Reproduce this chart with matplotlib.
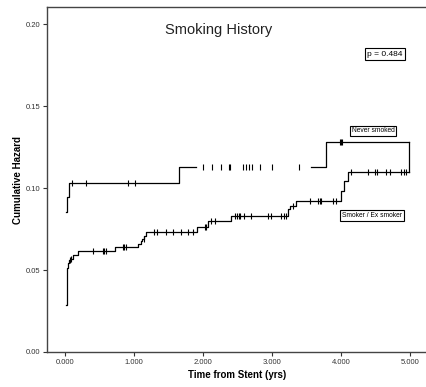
import numpy as np
import matplotlib
matplotlib.use("Agg")
import matplotlib.pyplot as plt

plt.rcParams['font.family'] = ['Liberation Sans', 'DejaVu Sans']

# ---------------- data ----------------
title = "Smoking History"
p_text = "p = 0.484"
xlabel = "Time from Stent (yrs)"
ylabel = "Cumulative Hazard"
xticks = [0, 1, 2, 3, 4, 5]
xticklabels = ["0.000", "1.000", "2.000", "3.000", "4.000", "5.000"]
yticks = [0.00, 0.05, 0.10, 0.15, 0.20]
yticklabels = ["0.00", "0.05", "0.10", "0.15", "0.20"]

# Never smoked: event times and cumulative hazard after each event
never_times = [0.02, 0.035, 0.055, 1.66, 3.78]
never_haz = [0.0855, 0.0947, 0.1032, 0.113, 0.128]
never_end = 4.99
never_gap = (1.90, 3.57)  # segment not visible in the reference
never_censor = [0.10, 0.30, 0.91, 1.01, 2.00, 2.13, 2.26, 2.38, 2.40, 2.58,
                2.62, 2.67, 2.71, 2.83, 3.00, 3.39, 3.99, 4.01, 4.02]

# Smoker / Ex smoker
smoker_times = [0.02, 0.025, 0.03, 0.045, 0.06, 0.08, 0.12, 0.19, 0.72, 1.06,
                1.10, 1.12, 1.15, 1.18, 1.91, 2.08, 2.41, 3.23, 3.26, 3.35,
                4.00, 4.05, 4.11]
smoker_haz = [0.0287, 0.040, 0.051, 0.054, 0.056, 0.057, 0.059, 0.0615, 0.064, 0.066,
              0.0675, 0.069, 0.071, 0.0733, 0.0762, 0.0799, 0.0831, 0.087, 0.089, 0.092,
              0.098, 0.104, 0.1096]
smoker_end = 4.99
smoker_censor = [0.07, 0.09, 0.40, 0.55, 0.57, 0.59, 0.84, 0.86, 0.88, 1.14,
                 1.29, 1.34, 1.47, 1.57, 1.69, 1.79, 1.85, 2.03, 2.05, 2.12,
                 2.17, 2.46, 2.50, 2.52, 2.54, 2.60, 2.70, 2.94, 2.99, 3.13,
                 3.17, 3.20, 3.30, 3.55, 3.67, 3.70, 3.72, 3.88, 3.93, 4.15,
                 4.40, 4.50, 4.52, 4.66, 4.71, 4.88, 4.91, 4.95]

# ---------------- helpers ----------------
def step_xy(times, haz, end):
    x = list(times) + [end]
    y = list(haz) + [haz[-1]]
    return np.array(x), np.array(y)

def haz_at(times, haz, t):
    idx = np.searchsorted(times, t, side='right') - 1
    idx = np.clip(idx, 0, len(haz) - 1)
    return np.array(haz)[idx]

# ---------------- figure ----------------
fig = plt.figure(figsize=(4.27, 3.87), dpi=100)
ax = fig.add_axes([47/427, 35/387, 380/427, 345/387])

lc = 'black'
lw = 0.9

# never smoked (with invisible gap)
nx, ny = step_xy(never_times, never_haz, never_end)
mask1 = nx <= never_gap[0]
x1 = np.append(nx[mask1], never_gap[0]); y1 = np.append(ny[mask1], haz_at(never_times, never_haz, never_gap[0]))
ax.step(x1, y1, where='post', color=lc, lw=lw)
mask2 = nx >= never_gap[1]
x2 = np.insert(nx[mask2], 0, never_gap[1]); y2 = np.insert(ny[mask2], 0, haz_at(never_times, never_haz, never_gap[1]))
ax.step(x2, y2, where='post', color=lc, lw=lw)
ax.plot([never_end, never_end], [smoker_haz[-1], never_haz[-1]], color=lc, lw=lw)

# smoker
sx, sy = step_xy(smoker_times, smoker_haz, smoker_end)
ax.step(sx, sy, where='post', color=lc, lw=lw)

# censor marks
ax.plot(never_censor, haz_at(never_times, never_haz, never_censor), ls='none',
        marker='|', ms=5, mew=0.8, color=lc)
ax.plot(smoker_censor, haz_at(smoker_times, smoker_haz, smoker_censor), ls='none',
        marker='|', ms=5, mew=0.8, color=lc)

ax.set_xlim(-0.26, 5.25)
ax.set_ylim(0, 0.2104)
ax.set_xticks(xticks)
ax.set_xticklabels(xticklabels, fontsize=5.5)
ax.set_yticks(yticks)
ax.set_yticklabels(yticklabels, fontsize=5.5)
ax.tick_params(length=3, width=0.8, pad=2, colors='#333')

for side in ['left', 'top', 'bottom']:
    ax.spines[side].set_color('#444')
    ax.spines[side].set_linewidth(1.0)
ax.spines['right'].set_visible(False)

ax.set_xlabel(xlabel, fontsize=7, fontweight='bold', labelpad=3)
fig.text(18/427, 1 - 180/387, ylabel, rotation=90, fontsize=7, fontweight='bold',
         ha='center', va='center')

ax.text((219 - 47) / 380, 1 - (30 - 7) / 345, title, transform=ax.transAxes,
        ha='center', va='center', fontsize=10.5, color='#222')

box = dict(boxstyle='square,pad=0.25', fc='white', ec='black', lw=0.8)
ax.text((385 - 47) / 380, 1 - (54 - 7) / 345, p_text, transform=ax.transAxes,
        ha='center', va='center', fontsize=6, bbox=box)
ax.text((373 - 47) / 380, 1 - (131 - 7) / 345, "Never smoked", transform=ax.transAxes,
        ha='center', va='center', fontsize=4.8, bbox=box)
ax.text((372 - 47) / 380, 1 - (215.5 - 7) / 345, "Smoker / Ex smoker", transform=ax.transAxes,
        ha='center', va='center', fontsize=4.8, bbox=box)

fig.savefig("out.png", dpi=100)
